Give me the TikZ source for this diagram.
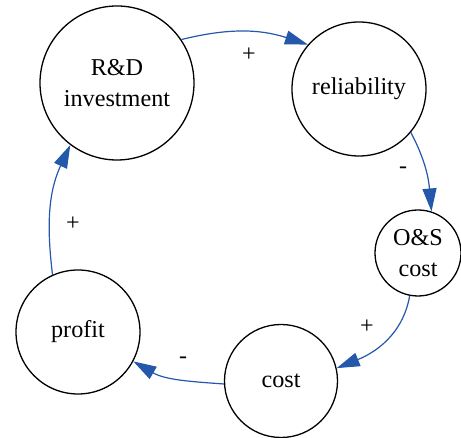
\documentclass[tikz,border=0pt]{standalone}
\usepackage{fontspec}
\setmainfont{Liberation Serif}
\newfontfamily\labelface{Liberation Serif}[Ligatures=Common]
\usetikzlibrary{arrows.meta}
\definecolor{linkblue}{RGB}{36,88,170}
\begin{document}
\begin{tikzpicture}[x=1pt,y=1pt,
  var/.style={circle,draw=black,line width=1.3pt,inner sep=0pt,align=center,
    font=\labelface\fontsize{24.2}{31}\selectfont},
  link/.style={draw=linkblue,line width=1.2pt,
    -{Triangle[length=23pt,width=14pt]}},
  sign/.style={font=\labelface\fontsize{24}{28}\selectfont,inner sep=0pt}]
\useasboundingbox (0,0) rectangle (461,438);
% the five variables of the loop
\node[var,minimum size=154pt] (rd)   at (117,355) {R\&D\\investment};
\node[var,minimum size=134pt] (rel)  at (359,349) {reliability};
\node[var,minimum size=86pt]  (os)   at (418,185) {O\&S\\cost};
\node[var,minimum size=113pt] (cost) at (281,57)  {cost};
\node[var,minimum size=124pt] (prof) at (78,106)  {profit};
% causal links
\draw[link] (rd.34)   to[out=14,in=162]  (rel.139);
\draw[link] (rel.-40) to[out=-62,in=95]  (os.72);
\draw[link] (os.-101) to[out=-100,in=22] (cost.13);
\draw[link] (cost.183) to[out=176,in=-30] (prof.-28);
\draw[link] (prof.114) to[out=97,in=245]  (rd.233);
% polarity of each link
\node[sign] (s1) at (249,383) {+};
\node[sign] (s2) at (403,268) {-};
\node[sign] (s3) at (367,111) {+};
\node[sign] (s4) at (183,78)  {-};
\node[sign] (s5) at (73,214)  {+};
\end{tikzpicture}
\end{document}
